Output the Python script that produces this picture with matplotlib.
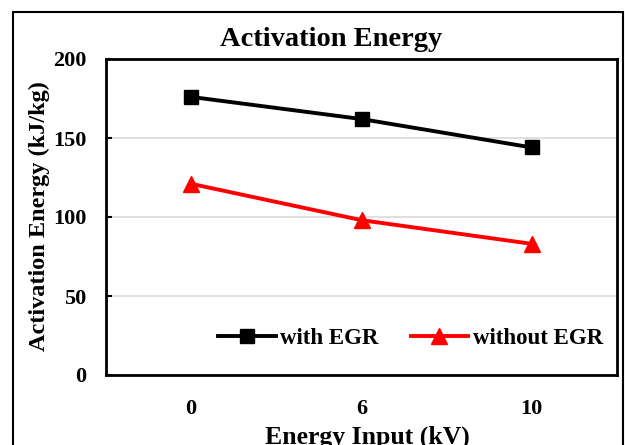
import matplotlib.pyplot as plt
from matplotlib.patches import Rectangle

categories = ['0', '6', '10']
with_egr = [176, 162, 144]
without_egr = [121, 98, 83]

plt.rcParams['font.family'] = ['Liberation Serif', 'DejaVu Serif']
plt.rcParams['font.weight'] = 'bold'

fig = plt.figure(figsize=(6.25, 4.45), dpi=100)
# plot box in pixels: left 106, right 617, top 59, bottom 375
ax = fig.add_axes([106 / 625, 1 - 375 / 445, (617 - 106) / 625, (375 - 59) / 445])

x = range(len(categories))
ax.plot(x, with_egr, color='black', lw=2.8, marker='s', markersize=10, label='with EGR', zorder=3)
ax.plot(x, without_egr, color='red', lw=2.8, marker='^', markersize=11, label='without EGR', zorder=3)

ax.set_xlim(-0.5, 2.5)
ax.set_ylim(0, 200)
ax.set_yticks([0, 50, 100, 150, 200])
ax.set_xticks(list(x))
ax.set_xticklabels(categories)
ax.yaxis.grid(True, color='#d9d9d9', lw=1.2)
ax.set_axisbelow(True)
ax.tick_params(axis='y', direction='in', length=4, width=1.5, labelsize=16, pad=14)
ax.tick_params(axis='x', length=0, labelsize=16, pad=17)
for s in ax.spines.values():
    s.set_linewidth(2)

fig.text(331 / 625, 1 - 39 / 445, 'Activation Energy', fontsize=20.5, fontweight='bold',
         ha='center', va='center')
fig.text(367 / 625, 1 - 437 / 445, 'Energy Input (kV)', fontsize=18.5, fontweight='bold',
         ha='center', va='center')
fig.text(39 / 625, 1 - 216 / 445, 'Activation Energy (kJ/kg)', fontsize=17.5, fontweight='bold',
         ha='center', va='center', rotation=90)

ax.legend(loc='center', bbox_to_anchor=(0.596, 0.117), ncol=2, frameon=False,
          fontsize=16.5, handlelength=2.5, handletextpad=0.2, columnspacing=1.4,
          borderpad=0, borderaxespad=0)

# outer chart frame (cropped at right and bottom)
fig.patches.append(Rectangle((13 / 625, -0.05), (623 - 13) / 625, 1 - 12 / 445 + 0.05,
                             transform=fig.transFigure, fill=False, ec='black', lw=1.5,
                             clip_on=False))

plt.savefig('out.png', dpi=100)
